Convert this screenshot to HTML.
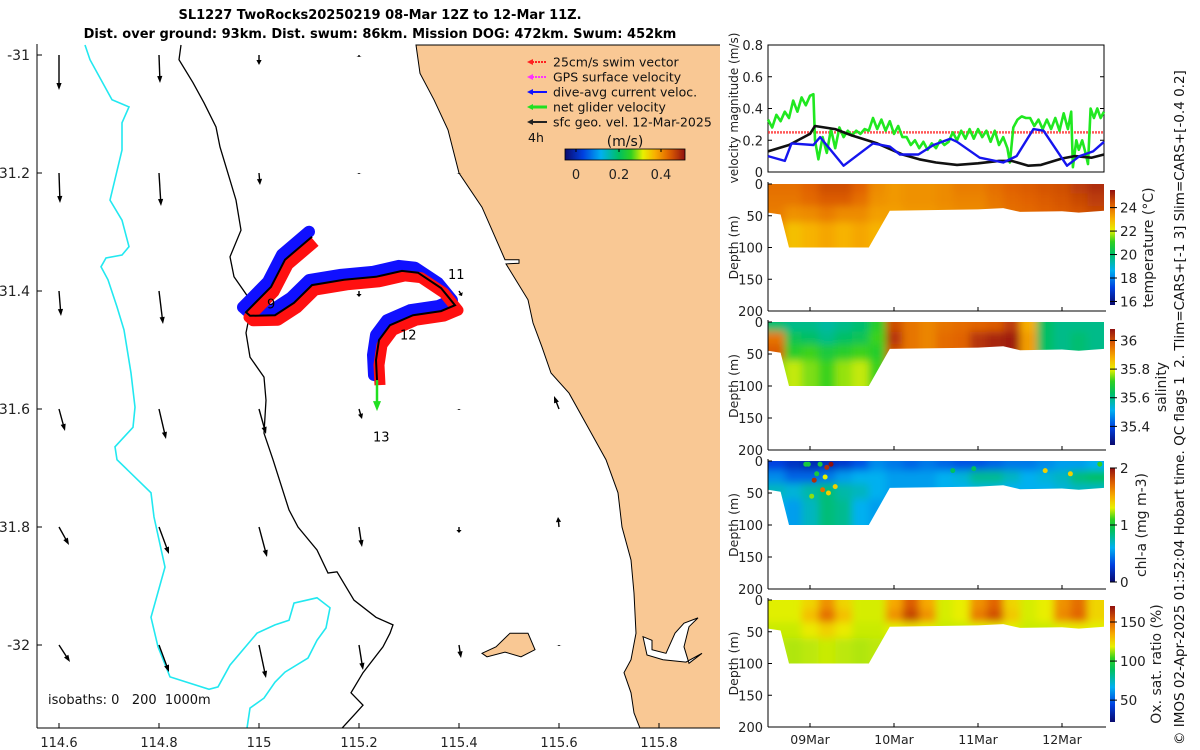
<!DOCTYPE html>
<html><head><meta charset="utf-8"><style>
html,body{margin:0;padding:0;background:#fff;}
svg{display:block;font-family:"DejaVu Sans","Liberation Sans",sans-serif;}
</style></head><body>
<svg id="fig" width="1200" height="750" viewBox="0 0 1200 750" xmlns="http://www.w3.org/2000/svg">
<defs>
<clipPath id="mapclip"><rect x="37" y="44" width="683" height="684"/></clipPath>
<filter id="blur" x="-5%" y="-5%" width="110%" height="110%"><feGaussianBlur stdDeviation="4"/></filter>
</defs>
<g id="titles" font-weight="bold" font-size="13" text-anchor="middle" fill="#000">
<text x="380" y="19">SL1227 TwoRocks20250219 08-Mar 12Z to 12-Mar 11Z.</text>
<text x="380" y="38">Dist. over ground: 93km. Dist. swum: 86km. Mission DOG: 472km. Swum: 452km</text>
</g>
<g id="map"></g>
<g id="vel"></g>
<g id="sections"></g>
<text transform="translate(1184,745) rotate(-90)" font-size="13.5" fill="#111" style="white-space:pre">© IMOS 02-Apr-2025 01:52:04 Hobart time. QC flags 1  2. Tlim=CARS+[-1 3] Slim=CARS+[-0.4 0.2]</text>
</svg>
<script>
// ---------- MAP DATA ----------
const lonTicks=[114.6,114.8,115,115.2,115.4,115.6,115.8];
const latTicks=[-31,-31.2,-31.4,-31.6,-31.8,-32];
const latTickLabels=["-31","-31.2","-31.4","-31.6","-31.8","-32"];
const iso1000Lon=[114.652,114.662,114.706,114.74,114.726,114.726,114.702,114.726,114.74,114.726,114.694,114.684,114.698,114.716,114.73,114.744,114.752,114.748,114.712,114.716,114.784,114.79,114.812,114.784,114.798,114.822,114.9,114.918,114.942,114.996,115.032,115.06,115.07,115.116,115.142,115.134,115.116,115.098,115.052,115.032,115.01,114.982,114.976];
const iso1000Lat=[-30.983,-31.008,-31.076,-31.088,-31.115,-31.161,-31.246,-31.28,-31.325,-31.339,-31.344,-31.359,-31.381,-31.427,-31.466,-31.539,-31.597,-31.631,-31.664,-31.686,-31.742,-31.783,-31.868,-31.953,-32.003,-32.054,-32.075,-32.071,-32.034,-31.98,-31.966,-31.958,-31.929,-31.92,-31.937,-31.971,-31.992,-32.022,-32.046,-32.063,-32.09,-32.107,-32.141];
const iso200Lon=[114.844,114.84,114.868,114.89,114.914,114.922,114.942,114.954,114.964,114.942,114.95,114.978,114.982,114.974,114.982,115.01,115.014,115.01,115.028,115.06,115.078,115.116,115.138,115.156,115.19,115.234,115.268,115.262,115.248,115.208,115.184,115.208,115.194,115.166];
const iso200Lat=[-30.983,-31.008,-31.047,-31.081,-31.122,-31.156,-31.212,-31.246,-31.297,-31.342,-31.376,-31.41,-31.437,-31.471,-31.512,-31.546,-31.585,-31.641,-31.686,-31.771,-31.8,-31.839,-31.878,-31.876,-31.924,-31.953,-31.966,-31.98,-32.003,-32.047,-32.081,-32.102,-32.115,-32.141];
const coastLon=[115.314,115.322,115.35,115.378,115.4,115.446,115.492,115.52,115.52,115.494,115.538,115.548,115.566,115.584,115.62,115.658,115.694,115.718,115.726,115.744,115.75,115.754,115.744,115.73,115.744,115.75,115.762,115.95,115.95];
const coastLat=[-30.983,-31.031,-31.076,-31.127,-31.2,-31.258,-31.347,-31.347,-31.353,-31.354,-31.415,-31.454,-31.495,-31.539,-31.573,-31.631,-31.686,-31.742,-31.8,-31.856,-31.912,-31.98,-32.025,-32.047,-32.081,-32.115,-32.141,-32.141,-30.983];
const islandLon=[115.446,115.474,115.502,115.538,115.552,115.524,115.492,115.456];
const islandLat=[-32.014,-32.003,-31.98,-31.98,-32.008,-32.02,-32.012,-32.02];
const estuaryLon=[115.768,115.786,115.786,115.814,115.832,115.85,115.878,115.86,115.85,115.86,115.886,115.854,115.808,115.776];
const estuaryLat=[-31.986,-31.992,-32.008,-32.014,-31.98,-31.963,-31.954,-31.969,-32.003,-32.031,-32.014,-32.029,-32.025,-32.017];
const trackLon=[115.106,115.052,115.024,114.974,114.982,115.032,115.07,115.106,115.17,115.234,115.286,115.318,115.364,115.392,115.364,115.308,115.262,115.24,115.234,115.236];
const trackLat=[-31.308,-31.347,-31.393,-31.436,-31.442,-31.441,-31.42,-31.39,-31.381,-31.376,-31.366,-31.369,-31.395,-31.424,-31.434,-31.441,-31.458,-31.483,-31.517,-31.551];
const arrowLons=[114.6,114.8,115,115.2,115.4,115.6];
const arrowLats=[-31,-31.2,-31.4,-31.6,-31.8,-32];
const arrowU=[[0,0.01,0,0,0,0],[0.01,0.02,0.01,0,0,0],[0.02,0.04,0,0,0.03,0],[0.06,0.07,0.07,0.03,0,-0.05],[0.10,0.10,0.08,0.03,0,-0.01],[0.11,0.10,0.07,0.04,0.02,0]];
const arrowV=[[-0.35,-0.28,-0.10,-0.02,0,0],[-0.30,-0.33,-0.12,-0.01,-0.01,0],[-0.25,-0.33,0,-0.06,-0.05,0],[-0.22,-0.30,-0.25,-0.10,-0.01,0.13],[-0.18,-0.27,-0.30,-0.20,-0.06,0.10],[-0.17,-0.27,-0.33,-0.25,-0.13,-0.01]];
const dayLabels=["9","11","12","13"];
const dayLon=[115.016,115.378,115.282,115.228];
const dayLat=[-31.43,-31.38,-31.482,-31.655];

// ---------- VELOCITY DATA ----------
const velTicks=[0,0.2,0.4,0.6,0.8];
const greenT=[0,0.05,0.1,0.15,0.2,0.25,0.3,0.35,0.4,0.45,0.5,0.54,0.56,0.6,0.65,0.7,0.75,0.8,0.85,0.9,0.95,1.0,1.05,1.1,1.15,1.2,1.25,1.3,1.35,1.4,1.45,1.5,1.55,1.6,1.65,1.7,1.75,1.8,1.85,1.9,1.95,2.0,2.05,2.1,2.15,2.2,2.25,2.3,2.35,2.4,2.45,2.5,2.55,2.6,2.65,2.7,2.75,2.8,2.85,2.88,2.92,2.97,3.02,3.07,3.12,3.17,3.22,3.27,3.32,3.37,3.42,3.47,3.52,3.57,3.61,3.63,3.67,3.7,3.74,3.78,3.81,3.84,3.88,3.92,3.96,4.0];
const greenV=[0.33,0.28,0.36,0.32,0.38,0.34,0.45,0.38,0.47,0.42,0.48,0.49,0.2,0.08,0.22,0.12,0.27,0.15,0.28,0.22,0.26,0.23,0.26,0.24,0.27,0.26,0.34,0.27,0.33,0.26,0.32,0.24,0.29,0.22,0.22,0.17,0.2,0.15,0.19,0.14,0.18,0.15,0.2,0.17,0.19,0.25,0.2,0.26,0.21,0.27,0.21,0.27,0.22,0.26,0.19,0.26,0.17,0.22,0.15,0.06,0.28,0.33,0.35,0.34,0.34,0.29,0.33,0.27,0.33,0.27,0.34,0.26,0.37,0.27,0.38,0.03,0.2,0.14,0.2,0.12,0.05,0.4,0.34,0.4,0.34,0.38];
const blueT=[0,0.2,0.28,0.54,0.62,0.9,1.1,1.25,1.45,1.57,1.79,1.97,2.17,2.25,2.52,2.8,2.96,3.16,3.28,3.56,3.71,3.87,4.0];
const blueV=[0.1,0.07,0.18,0.17,0.22,0.04,0.12,0.18,0.16,0.11,0.11,0.17,0.21,0.19,0.09,0.06,0.1,0.27,0.26,0.04,0.1,0.13,0.19];
const blackT=[0,0.25,0.5,0.56,0.8,1.0,1.3,1.6,1.8,2.0,2.25,2.5,2.75,2.9,3.1,3.25,3.5,3.65,3.85,4.0];
const blackV=[0.13,0.17,0.24,0.29,0.27,0.23,0.18,0.11,0.08,0.06,0.045,0.055,0.07,0.07,0.04,0.045,0.085,0.1,0.09,0.11];
const swimRef=[0.25];

// ---------- SECTION DATA (4 depth bands x 20 columns of 0.2 day) ----------
const bandEdges=[0,15,35,60,100];
const bottomT=[0,0.15,0.25,1.2,1.45,2.5,2.8,3.0,3.5,3.7,4.0];
const bottomD=[45,48,100,100,42,40,38,44,43,45,42];
const tempB0=[24,24,24.2,24.5,24.5,24.2,23.6,23.4,23.5,23.5,23.6,23.8,23.8,24,24.2,24.3,24.4,24.5,24.8,25];
const tempB1=[23.9,23.9,24.1,24.3,24.3,24.0,23.5,23.4,23.5,23.5,23.6,23.7,23.7,23.9,24.1,24.2,24.3,24.4,24.6,24.8];
const tempB2=[23.8,23.5,23.6,23.8,23.6,23.6,23.3,23.3,23.4,23.4,23.5,23.6,23.6,23.8,24,24.1,24.2,24.3,24.4,24.6];
const tempB3=[23.5,22.8,23,23.2,23,23.2,23,23.2,23.3,23.3,23.4,23.5,23.5,23.7,23.9,24,24.1,24.2,24.3,24.5];
const salB0=[35.62,35.6,35.6,35.58,35.6,35.62,35.7,36.0,35.95,35.93,35.95,35.96,35.97,35.98,36.02,35.88,35.63,35.6,35.6,35.6];
const salB1=[35.95,35.65,35.63,35.6,35.63,35.65,35.72,36.03,35.95,35.93,35.96,35.97,36.03,36.05,36.06,35.9,35.63,35.6,35.62,35.6];
const salB2=[35.98,35.7,35.72,35.68,35.7,35.72,35.7,36.0,35.95,35.93,35.96,35.97,36.03,36.05,36.06,35.9,35.63,35.6,35.62,35.6];
const salB3=[35.75,35.78,35.75,35.72,35.76,35.78,35.72,36.0,35.95,35.93,35.96,35.97,36.03,36.05,36.06,35.9,35.63,35.6,35.62,35.6];
const chlB0=[0.3,0.22,0.18,0.2,0.25,0.35,0.5,0.45,0.4,0.45,0.4,0.35,0.35,0.4,0.45,0.45,0.5,0.55,0.55,0.6];
const chlB1=[0.5,0.4,0.4,0.45,0.55,0.6,0.6,0.55,0.55,0.55,0.6,0.65,0.8,0.8,0.7,0.6,0.65,0.7,0.85,0.9];
const chlB2=[0.7,0.65,0.75,0.85,0.75,0.7,0.6,0.55,0.55,0.55,0.6,0.6,0.65,0.65,0.6,0.6,0.6,0.65,0.7,0.7];
const chlB3=[0.6,0.55,0.7,0.85,0.8,0.6,0.55,0.55,0.55,0.55,0.6,0.6,0.6,0.6,0.6,0.6,0.6,0.6,0.6,0.6];
const oxB0=[118,118,125,140,125,117,117,135,152,135,117,119,140,150,125,117,119,140,148,125];
const oxB1=[118,118,130,148,130,117,117,140,158,140,117,119,145,155,128,117,119,142,150,125];
const oxB2=[116,116,120,126,120,116,116,118,122,118,116,116,118,120,118,116,116,118,120,118];
const oxB3=[115,114,115,116,115,114,115,115,115,115,115,115,115,115,115,115,115,115,115,115];
const chlDotT=[0.45,0.55,0.62,0.7,0.75,0.58,0.65,0.72,0.8,0.52,0.68,0.48,3.3,3.6,3.95,2.2,2.45];
const chlDotD=[5,30,5,10,5,20,45,50,40,55,25,5,15,20,5,15,12];
const chlDotV=[1.0,1.9,1.0,1.9,2.0,1.0,1.7,1.4,1.4,1.2,1.3,1.0,1.4,1.4,1.1,0.9,0.9];
const dateTicks=[0.5,1.5,2.5,3.5];
const dateLabels=["09Mar","10Mar","11Mar","12Mar"];

// ---------- helpers ----------
const NS="http://www.w3.org/2000/svg";
function mk(tag,attrs,parent){const e=document.createElementNS(NS,tag);for(const k in attrs)e.setAttribute(k,attrs[k]);if(parent)parent.appendChild(e);return e;}
const xLon=lon=>59+(lon-114.6)*500;
const yLat=lat=>55+(-31-lat)*590;
const CM=[[0,[10,10,110]],[0.15,[0,64,224]],[0.3,[0,176,240]],[0.45,[0,192,96]],[0.55,[48,208,32]],[0.65,[232,240,0]],[0.75,[248,176,0]],[0.87,[224,96,0]],[1,[144,16,16]]];
function cmap(t){t=Math.max(0,Math.min(1,t));for(let i=1;i<CM.length;i++){if(t<=CM[i][0]){const a=CM[i-1],b=CM[i],f=(t-a[0])/(b[0]-a[0]);const c=a[1].map((v,j)=>Math.round(v+(b[1][j]-v)*f));return `rgb(${c[0]},${c[1]},${c[2]})`;}}return "rgb(144,16,16)";}
function grad(id,vertical){const d=document.querySelector('defs');const g=mk('linearGradient',{id:id,x1:0,y1:vertical?1:0,x2:vertical?0:1,y2:0},d);for(let i=0;i<=20;i++){mk('stop',{offset:i/20,'stop-color':cmap(i/20)},g);}}
grad('cmV',true);grad('cmH',false);
function pts(lons,lats){return lons.map((l,i)=>xLon(l).toFixed(1)+','+yLat(lats[i]).toFixed(1)).join(' ');}

// ---------- MAP ----------
const map=document.getElementById('map');
const mc=mk('g',{'clip-path':'url(#mapclip)'},map);
const land=mk('polygon',{points:pts(coastLon,coastLat),fill:'#f9c894',stroke:'#000','stroke-width':1},mc);


const isl=mk('polygon',{points:pts(islandLon,islandLat),fill:'#f9c894',stroke:'#000','stroke-width':1},mc);


const est=mk('polygon',{points:pts(estuaryLon,estuaryLat),fill:'#fff',stroke:'#000','stroke-width':1},mc);


const i1=mk('polyline',{points:pts(iso1000Lon,iso1000Lat),fill:'none',stroke:'#22e8f0','stroke-width':1.6},mc);


const i2=mk('polyline',{points:pts(iso200Lon,iso200Lat),fill:'none',stroke:'#000','stroke-width':1.3},mc);


const SC=100;
arrowLats.forEach((la,r)=>arrowLons.forEach((lo,c)=>{
  const x0=xLon(lo),y0=yLat(la),dx=arrowU[r][c]*SC,dy=-arrowV[r][c]*SC;
  const L=Math.hypot(dx,dy);if(L<1)return;
  const g=mk('g',{},mc);
  
  
  const x1=x0+dx,y1=y0+dy,ux=dx/L,uy=dy/L,h=Math.min(7,L*0.5);
  mk('line',{x1:x0,y1:y0,x2:x1-ux*h*0.6,y2:y1-uy*h*0.6,stroke:'#000','stroke-width':1.4},g);
  mk('polygon',{points:`${x1},${y1} ${x1-ux*h-uy*2.6},${y1-uy*h+ux*2.6} ${x1-ux*h+uy*2.6},${y1-uy*h-ux*2.6}`,fill:'#000'},g);
}));
const trk=pts(trackLon,trackLat);
const bl=mk('polyline',{points:trk,fill:'none',stroke:'#1010ff','stroke-width':12,'stroke-linejoin':'round','stroke-linecap':'round',transform:'translate(-3,-5)'},mc);


const rd=mk('polyline',{points:trk,fill:'none',stroke:'#ff1010','stroke-width':11,'stroke-linejoin':'round',transform:'translate(3,5)'},mc);


const tk=mk('polyline',{points:trk,fill:'none',stroke:'#000','stroke-width':2},mc);


const ln=trackLon.length-1,gx=xLon(trackLon[ln]),gy=yLat(trackLat[ln]);
const ga=mk('g',{},mc);


mk('line',{x1:gx,y1:gy,x2:gx,y2:gy+24,stroke:'#20e020','stroke-width':2.5},ga);
mk('polygon',{points:`${gx},${gy+31} ${gx-4},${gy+21} ${gx+4},${gy+21}`,fill:'#20e020'},ga);
dayLabels.forEach((t,i)=>{const e=mk('text',{x:xLon(dayLon[i]),y:yLat(dayLat[i]),'font-size':13,fill:'#000'},mc);e.textContent=t;

});
const ax=mk('g',{stroke:'#000','stroke-width':1},map);


mk('line',{x1:37,y1:44,x2:37,y2:728},ax);mk('line',{x1:37,y1:728,x2:720,y2:728},ax);
lonTicks.forEach(lo=>{const x=xLon(lo);mk('line',{x1:x,y1:728,x2:x,y2:723},ax);
const t=mk('text',{x:x,y:747,'font-size':13,'text-anchor':'middle',fill:'#222',stroke:'none'},map);t.textContent=String(lo);

});
latTicks.forEach((la,i)=>{const y=yLat(la);mk('line',{x1:37,y1:y,x2:42,y2:y},ax);
const t=mk('text',{x:30,y:y+5,'font-size':14,'text-anchor':'end',fill:'#222',stroke:'none'},map);t.textContent=latTickLabels[i];

});
const iso=mk('text',{x:48,y:704,'font-size':13,fill:'#111',style:'white-space:pre'},map);iso.textContent='isobaths: 0   200  1000m';


const leg=mk('g',{},map);


const legItems=[['25cm/s swim vector','#ff2020',true],['GPS surface velocity','#ff30ff',true],['dive-avg current veloc.','#1010ff',false],['net glider velocity','#20e020',false],['sfc geo. vel. 12-Mar-2025','#222',false]];
legItems.forEach((it,i)=>{const y=62+i*15;const g=mk('g',{},leg);


mk('line',{x1:532,y1:y,x2:547,y2:y,stroke:it[1],'stroke-width':it[0].startsWith('net')?3:2,'stroke-dasharray':it[2]?'2 1':'none'},g);
mk('polygon',{points:`527,${y} 533,${y-3} 533,${y+3}`,fill:it[1]},g);
const t=mk('text',{x:553,y:y+4.5,'font-size':12.5,fill:'#111'},g);t.textContent=it[0];});
const h4=mk('text',{x:528,y:142,'font-size':12.5,fill:'#111'},leg);h4.textContent='4h';
const ms=mk('text',{x:625,y:146,'font-size':14,'text-anchor':'middle',fill:'#111'},leg);ms.textContent='(m/s)';
const lcb=mk('rect',{x:565,y:149,width:120,height:11,fill:'url(#cmH)',stroke:'#000','stroke-width':0.8},leg);


[['0',576],['0.2',619],['0.4',661]].forEach(a=>{mk('line',{x1:a[1],y1:149,x2:a[1],y2:152,stroke:'#000'},leg);const t=mk('text',{x:a[1],y:179,'font-size':13,'text-anchor':'middle',fill:'#222'},leg);t.textContent=a[0];});

// ---------- VELOCITY PANEL ----------
const V=document.getElementById('vel');
const X0=768,X1=1104;
const xDay=d=>X0+d*(X1-X0)/4;
const yVel=v=>172-v*(172-45)/0.8;
mk('rect',{x:X0,y:45,width:X1-X0,height:127,fill:'#fff',stroke:'#000','stroke-width':1},V);
velTicks.forEach(v=>{const y=yVel(v);mk('line',{x1:X0,y1:y,x2:X0+4,y2:y,stroke:'#000'},V);mk('line',{x1:X1,y1:y,x2:X1-4,y2:y,stroke:'#000'},V);
const t=mk('text',{x:763,y:y+5,'font-size':13,'text-anchor':'end',fill:'#222'},V);t.textContent=String(v);

});
const vl=mk('text',{transform:'translate(738,108) rotate(-90)','font-size':12,'text-anchor':'middle',fill:'#222'},V);vl.textContent='velocity magnitude (m/s)';


const sref=mk('line',{x1:X0,y1:yVel(swimRef[0]),x2:X1,y2:yVel(swimRef[0]),stroke:'#ff2020','stroke-width':2.5,'stroke-dasharray':'2 1',opacity:0.75},V);


function series(T,Vv,col,w,name){const p=mk('polyline',{points:T.map((t,i)=>xDay(t).toFixed(1)+','+yVel(Vv[i]).toFixed(1)).join(' '),fill:'none',stroke:col,'stroke-width':w,'stroke-linejoin':'round'},V);

}
series(greenT,greenV,'#20e820',2.6,'net-glider-velocity-line');
series(blackT,blackV,'#111',2.6,'sfc-geo-velocity-line');
series(blueT,blueV,'#1515ee',2.4,'dive-avg-current-line');

// ---------- SECTIONS ----------
const S=document.getElementById('sections');
const panels=[
 {name:'temperature',top:184,bot:311,b:[tempB0,tempB1,tempB2,tempB3],vmin:15.7,vmax:25.5,cbTicks:[16,18,20,22,24],cbLab:'temperature (°C)',labX:1153,cbTop:190,cbBot:305},
 {name:'salinity',top:322,bot:450,b:[salB0,salB1,salB2,salB3],vmin:35.27,vmax:36.08,cbTicks:[35.4,35.6,35.8,36],cbLab:'salinity',labX:1166,cbTop:329,cbBot:445},
 {name:'chlorophyll',top:461,bot:589,b:[chlB0,chlB1,chlB2,chlB3],vmin:0,vmax:2,cbTicks:[0,1,2],cbLab:'chl-a (mg m-3)',labX:1146,cbTop:468,cbBot:582},
 {name:'oxygen',top:600,bot:727,b:[oxB0,oxB1,oxB2,oxB3],vmin:22,vmax:170.5,cbTicks:[50,100,150],cbLab:'Ox. sat. ratio (%)',labX:1161,cbTop:606,cbBot:722}
];
const depthTicks=[0,50,100,150,200];
panels.forEach((P,pi)=>{
 const g=mk('g',{},S);
 
 
 const yD=d=>P.top+d*(P.bot-P.top)/200;
 const cid='clip'+pi;
 const cp=mk('clipPath',{id:cid},document.querySelector('defs'));
 mk('polygon',{points:`${xDay(0)},${yD(0)} ${xDay(4)},${yD(0)} `+bottomT.slice().reverse().map((t,i)=>xDay(t).toFixed(1)+','+yD(bottomD[bottomT.length-1-i]).toFixed(1)).join(' ')},cp);
 const cg=mk('g',{'clip-path':`url(#${cid})`},g);
 const bg=mk('g',{filter:'url(#blur)'},cg);
 for(let b=0;b<4;b++){for(let c=0;c<20;c++){
  const v=P.b[b][c];const t=(v-P.vmin)/(P.vmax-P.vmin);
  const r=mk('rect',{x:xDay(c*0.2)-(c==0?10:0),y:yD(bandEdges[b])-(b==0?10:0),width:(X1-X0)/20+(c==0||c==19?10:0)+0.5,height:yD(bandEdges[b+1])-yD(bandEdges[b])+(b==0?10:0)+(b==3?10:0)+0.5,fill:cmap(t)},bg);
  
  
 }}
 if(P.name==='chlorophyll'){chlDotT.forEach((t,i)=>{const d=mk('circle',{cx:xDay(t),cy:yD(chlDotD[i]),r:2.5,fill:cmap((chlDotV[i]-P.vmin)/(P.vmax-P.vmin))},cg);
  
  });}
 mk('line',{x1:X0,y1:P.top-2,x2:X0,y2:P.bot,stroke:'#000'},g);
 mk('line',{x1:X0,y1:P.bot,x2:X1+2,y2:P.bot,stroke:'#000'},g);
 depthTicks.forEach(d=>{const y=yD(d);mk('line',{x1:X0,y1:y,x2:X0+4,y2:y,stroke:'#000'},g);
  const t=mk('text',{x:763,y:y+5,'font-size':13,'text-anchor':'end',fill:'#222'},g);t.textContent=String(d);
  
  });
 dateTicks.forEach(d=>mk('line',{x1:xDay(d),y1:P.bot,x2:xDay(d),y2:P.bot-4,stroke:'#000'},g));
 const yl=mk('text',{transform:`translate(738,${(P.top+P.bot)/2}) rotate(-90)`,'font-size':12.5,'text-anchor':'middle',fill:'#222'},g);yl.textContent='Depth (m)';
 
 
 const cb=mk('rect',{x:1110,y:P.cbTop,width:5,height:P.cbBot-P.cbTop,fill:'url(#cmV)'},g);
 
 
 const yC=v=>P.cbBot-(v-P.vmin)/(P.vmax-P.vmin)*(P.cbBot-P.cbTop);
 P.cbTicks.forEach(v=>{const y=yC(v);mk('line',{x1:1110,y1:y,x2:1117,y2:y,stroke:'#000'},g);
  const t=mk('text',{x:1120,y:y+5,'font-size':13.5,fill:'#222'},g);t.textContent=String(v);
  
  });
 const cl=mk('text',{transform:`translate(${P.labX},${(P.cbTop+P.cbBot)/2}) rotate(-90)`,'font-size':14,'text-anchor':'middle',fill:'#222'},g);cl.textContent=P.cbLab;
 
 
 if(pi===3){dateTicks.forEach((d,i)=>{const t=mk('text',{x:xDay(d),y:744,'font-size':12.5,'text-anchor':'middle',fill:'#222'},g);t.textContent=dateLabels[i];
  
  });}
});
</script>
</body></html>
